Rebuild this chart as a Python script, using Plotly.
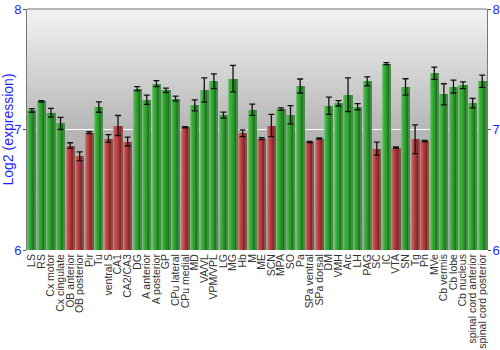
import plotly.graph_objects as go

categories = ["LS", "RS", "Cx motor", "Cx cingulate", "OB anterior", "OB posterior", "Pir", "Tu",
              "ventral S", "CA1", "CA2/CA3", "DG", "A anterior", "A posterior", "GP", "CPu lateral",
              "CPu medial", "MD", "VA/VL", "VPM/VPL", "LG", "MG", "Hb", "M", "ME", "SCN", "MPA", "SO",
              "Pa", "SPa ventral", "SPa dorsal", "DM", "VMH", "Arc", "LH", "PAG", "SC", "IC", "VTA",
              "SN", "Tg", "Pn", "MVe", "Cb vermis", "Cb lobe", "Cb nucleus", "spinal cord anterior",
              "spinal cord posterior"]
values = [7.158, 7.233, 7.139, 7.05, 6.867, 6.778, 6.975, 7.186,
          6.925, 7.033, 6.9, 7.339, 7.247, 7.381, 7.325, 7.256,
          7.019, 7.2, 7.328, 7.4, 7.119, 7.422, 6.969, 7.164, 6.925, 7.033, 7.169, 7.122,
          7.361, 6.897, 6.925, 7.197, 7.217, 7.289, 7.189, 7.4, 6.842, 7.547, 6.85,
          7.353, 6.919, 6.903, 7.467, 7.292, 7.356, 7.367, 7.219, 7.4]
errors = [0.015, 0.006, 0.036, 0.05, 0.023, 0.036, 0.008, 0.043,
          0.032, 0.083, 0.037, 0.017, 0.039, 0.025, 0.018, 0.021,
          0.005, 0.046, 0.1, 0.061, 0.025, 0.11, 0.028, 0.046, 0.008, 0.092, 0.011, 0.076,
          0.058, 0.005, 0.005, 0.072, 0.022, 0.14, 0.025, 0.0375, 0.054, 0.008, 0.005,
          0.068, 0.12, 0.006, 0.051, 0.0875, 0.053, 0.028, 0.039, 0.051]
groups = ["g", "g", "g", "g", "r", "r", "r", "g",
          "r", "r", "r", "g", "g", "g", "g", "g",
          "r", "g", "g", "g", "g", "g", "r", "g", "r", "r", "g", "g",
          "g", "r", "r", "g", "g", "g", "g", "g", "r", "g", "r",
          "g", "r", "r", "g", "g", "g", "g", "g", "g"]
yticks = [6, 7, 8]

BASE = 6
x = list(range(len(categories)))
heights = [v - BASE for v in values]

green_shades = ["#6fbf6f", "#4fb64f", "#3aac3a", "#32a332", "#2b962b", "#248724", "#1d761d", "#4a8a4a"]
red_shades = ["#d07878", "#c85a5a", "#bf4848", "#b54040", "#a53636", "#942e2e", "#822828", "#8a5050"]


def lerp_gray(a, b, t):
    v = round(a + (b - a) * t)
    return f"rgb({v},{v},{v})"


shapes = []
nsteps = 80
for i in range(nsteps):
    t0 = i / nsteps
    t1 = (i + 1) / nsteps
    tm = (t0 + t1) / 2
    if tm < 0.5:
        g = lerp_gray(160, 182, tm / 0.5)
    else:
        g = lerp_gray(182, 243, (tm - 0.5) / 0.5)
    shapes.append(dict(type="rect", xref="paper", yref="paper", x0=0, x1=1,
                       y0=t0, y1=t1 + 0.002, fillcolor=g, line=dict(width=0), layer="below"))
shapes.append(dict(type="line", xref="paper", yref="paper", x0=0, x1=1, y0=1, y1=1,
                   line=dict(color="#777777", width=1)))

fig = go.Figure()

total_w = 0.86
n = len(green_shades)
sw = total_w / n
for k in range(n):
    cols = [green_shades[k] if g == "g" else red_shades[k] for g in groups]
    fig.add_trace(go.Bar(
        x=x, y=heights, base=BASE, width=sw * 1.05, offset=-total_w / 2 + k * sw,
        marker=dict(color=cols, line=dict(width=0)),
        showlegend=False, hoverinfo="skip"))

fig.add_trace(go.Scatter(
    x=x, y=values, mode="markers", marker=dict(size=1, opacity=0),
    error_y=dict(type="data", array=errors, color="#111111", thickness=1.3, width=3),
    showlegend=False, hoverinfo="skip"))

fig.add_trace(go.Scatter(x=[0], y=[7], yaxis="y2", mode="markers",
                         marker=dict(opacity=0), showlegend=False, hoverinfo="skip"))

blue = "#1f1fff"
fig.update_layout(
    width=500, height=350,
    margin=dict(l=27, r=13, t=9, b=100),
    paper_bgcolor="white", plot_bgcolor="white",
    barmode="overlay", bargap=0,
    font=dict(family="Liberation Sans, Arial, sans-serif"),
    xaxis=dict(range=[-0.5, 47.5], tickmode="array", tickvals=x, ticktext=categories,
               tickangle=-90, tickfont=dict(size=10.5, color="#333333"),
               showgrid=False, zeroline=False, showline=False, ticks="",
               ticklabelstandoff=1, fixedrange=True, automargin=False),
    yaxis=dict(range=[6, 8], tickvals=yticks, tickfont=dict(size=13, color=blue),
               title=dict(text="Log2 (expression)", font=dict(size=14, color=blue), standoff=0),
               showgrid=True, gridcolor="white", gridwidth=1.2, zeroline=False,
               showline=True, linecolor="#777777", linewidth=1, automargin=False,
               ticks="outside", ticklen=3, tickcolor="#555555", ticklabelstandoff=-1),
    yaxis2=dict(range=[6, 8], tickvals=yticks, overlaying="y", side="right",
                tickfont=dict(size=13, color=blue), showgrid=False, zeroline=False,
                showline=True, linecolor="#777777", linewidth=1, automargin=False,
                ticks="outside", ticklen=3, tickcolor="#555555", ticklabelstandoff=-1),
    shapes=shapes,
)

fig.write_html("out.html")
